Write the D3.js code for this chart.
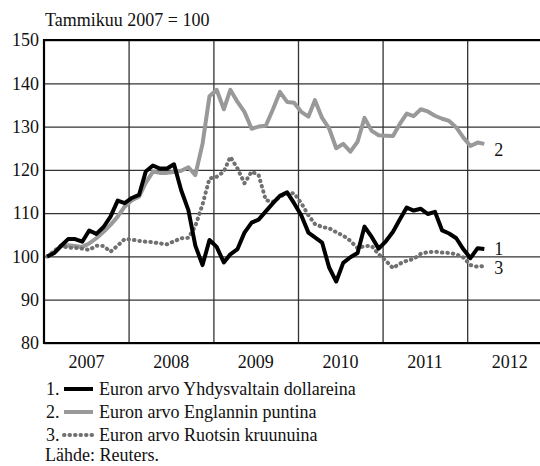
<!DOCTYPE html>
<html>
<head>
<meta charset="utf-8">
<script src="https://cdn.jsdelivr.net/npm/d3@7"></script>
<style>
    body { margin: 0; background: #fff; }
    svg text { font-family: "Liberation Serif", "Times New Roman", serif; font-size: 18px; fill: #111; }
</style>
</head>
<body>
<div id="chart"></div>
<script>
// monthly index values, Jan 2007 = 100 (Jan 2007 ... Mar 2012)
var startYear = 2007;
var usd = [
    100, 100.8, 102.4, 104, 104, 103.4, 106, 105.2, 106.8, 109.2, 112.9, 112.3,
    113.5, 114.2, 119.6, 121, 120.3, 120.3, 121.3, 115.3, 110.7, 102.5, 98, 103.8,
    102.2, 98.6, 100.5, 101.7, 105.5, 107.8, 108.5, 110.4, 112.3, 114, 114.8, 112.3,
    109.5, 105.5, 104.4, 103.2, 97.5, 94.2, 98.5, 99.8, 100.8, 106.9, 104.5, 101.8,
    103.5, 105.7, 108.4, 111.3, 110.6, 111, 109.8, 110.3, 106, 105.3, 104.2, 101.7,
    99.6, 101.9, 101.7
];
var gbp = [
    100, 101, 102.4, 102.6, 102.4, 102.2, 103, 104.2, 105.7, 107.3, 109.2, 111.5,
    113, 113.8, 117, 119.6, 119.3, 119.3, 119.5, 119.8, 120.6, 118.8, 126, 137,
    138.5, 134, 138.5, 135.7, 133.4, 129.5, 130, 130.2, 134, 138, 135.7, 135.5,
    133.4, 132.3, 136.1, 132, 129.6, 125, 126, 124.2, 126.5, 132, 129, 128,
    127.9, 127.8, 130.5, 133, 132.4, 134, 133.5, 132.5, 131.8, 131.3, 129.8, 127.5,
    125.5, 126.3, 126
];
var sek = [
    100, 101.3, 102.5, 102, 102, 101.8, 101.5, 102.5, 102.4, 101.1, 102.5, 104,
    103.9, 103.6, 103.4, 103.3, 103, 102.8, 103.5, 104.2, 104.3, 107, 112, 118,
    118.4, 119.6, 123, 120.3, 116.9, 119.6, 118.8, 113, 112.6, 113.8, 114.6, 114.6,
    112.3, 109.5, 107.5, 106.8, 106.5, 105.6, 104.8, 103.6, 101.9, 102.4, 102.4, 100.5,
    99, 97.3, 98.3, 99, 99.4, 100.6, 101, 101.1, 100.9, 100.8, 100.5, 99.8,
    98, 97.6, 97.8
];
var years = [2007, 2008, 2009, 2010, 2011, 2012];
var yTicks = [80, 90, 100, 110, 120, 130, 140, 150];
var subtitle = "Tammikuu 2007 = 100";
var legendLabels = [
    "Euron arvo Yhdysvaltain dollareina",
    "Euron arvo Englannin puntina",
    "Euron arvo Ruotsin kruunuina"
];
var endLabels = ["1", "2", "3"];
var source = "Lähde: Reuters.";

var width = 540, height = 466;
var plotLeft = 44, plotTop = 40, plotBottom = 343, plotRight = 552;

var svg = d3.select("#chart").append("svg")
    .attr("width", width)
    .attr("height", height);

var x = d3.scaleTime()
    .domain([new Date(startYear, 0, 1), new Date(startYear + years.length, 0, 1)])
    .range([plotLeft, plotRight]);
var y = d3.scaleLinear().domain([80, 150]).range([plotBottom, plotTop]);

function toPoints(values) {
    return values.map(function (v, i) {
        return { date: new Date(startYear, i, 15), value: v };
    });
}

// horizontal grid
svg.append("g")
    .attr("transform", "translate(" + plotLeft + ",0)")
    .call(d3.axisLeft(y).tickValues(yTicks).tickSize(-(plotRight - plotLeft)).tickFormat(""))
    .call(function (g) { g.select(".domain").remove(); })
    .selectAll("line")
    .attr("stroke", "#333")
    .attr("stroke-width", 1.3);

// vertical grid at year boundaries
svg.append("g")
    .attr("transform", "translate(0," + plotBottom + ")")
    .call(d3.axisBottom(x)
        .tickValues(years.slice(1).map(function (d) { return new Date(d, 0, 1); }))
        .tickSize(-(plotBottom - plotTop)).tickFormat(""))
    .call(function (g) { g.select(".domain").remove(); })
    .selectAll("line")
    .attr("stroke", "#333")
    .attr("stroke-width", 1.3);

// y labels
svg.append("g")
    .attr("transform", "translate(" + plotLeft + ",0)")
    .call(d3.axisLeft(y).tickValues(yTicks).tickSize(0).tickPadding(5))
    .call(function (g) { g.select(".domain").remove(); })
    .selectAll("text")
    .style("font-size", "18px")
    .style("font-family", "Liberation Serif");

// year labels in the middle of each year
svg.append("g")
    .attr("transform", "translate(0," + plotBottom + ")")
    .call(d3.axisBottom(x)
        .tickValues(years.map(function (d) { return new Date(d, 6, 1); }))
        .tickSize(0).tickPadding(12)
        .tickFormat(d3.timeFormat("%Y")))
    .call(function (g) { g.select(".domain").remove(); })
    .selectAll("text")
    .style("font-size", "18px")
    .style("font-family", "Liberation Serif");

// frame: top, left, bottom
svg.append("path")
    .attr("d", "M" + width + "," + plotTop + "H" + plotLeft + "V" + plotBottom + "H" + width)
    .attr("fill", "none")
    .attr("stroke", "#000")
    .attr("stroke-width", 2.2);

var line = d3.line()
    .x(function (d) { return x(d.date); })
    .y(function (d) { return y(d.value); });

var series = [
    { values: gbp, color: "#999", dash: null },
    { values: sek, color: "#707070", dash: "0.5,5" },
    { values: usd, color: "#000", dash: null }
];

svg.selectAll("path.series")
    .data(series)
    .enter()
    .append("path")
    .attr("class", "series")
    .attr("d", function (d) { return line(toPoints(d.values)); })
    .attr("fill", "none")
    .attr("stroke", function (d) { return d.color; })
    .attr("stroke-width", 4)
    .attr("stroke-linecap", function (d) { return d.dash ? "round" : "butt"; })
    .attr("stroke-linejoin", "round")
    .attr("stroke-dasharray", function (d) { return d.dash; });

// numbers at the line ends
var ends = [usd, gbp, sek];
var endOffsets = [0, 6, 2];
svg.selectAll("text.end-label")
    .data(endLabels)
    .enter()
    .append("text")
    .attr("class", "end-label")
    .attr("x", function (d, i) { return x(new Date(startYear, ends[i].length - 1, 15)) + 10; })
    .attr("y", function (d, i) { return y(ends[i][ends[i].length - 1]) + 6 + endOffsets[i]; })
    .text(function (d) { return d; });

svg.append("text")
    .attr("x", 45)
    .attr("y", 26)
    .text(subtitle);

// legend
var legendStyles = [
    { color: "#000", dash: null },
    { color: "#999", dash: null },
    { color: "#707070", dash: "0.5,5" }
];
var legendY = [389, 412, 435];

var legend = svg.selectAll("g.legend")
    .data(legendLabels)
    .enter()
    .append("g")
    .attr("class", "legend")
    .attr("transform", function (d, i) { return "translate(0," + legendY[i] + ")"; });

legend.append("text")
    .attr("x", 46)
    .attr("y", 6)
    .text(function (d, i) { return (i + 1) + "."; });

legend.append("line")
    .attr("x1", 64)
    .attr("x2", 93)
    .attr("stroke", function (d, i) { return legendStyles[i].color; })
    .attr("stroke-width", 4)
    .attr("stroke-linecap", function (d, i) { return legendStyles[i].dash ? "round" : "butt"; })
    .attr("stroke-dasharray", function (d, i) { return legendStyles[i].dash; });

legend.append("text")
    .attr("x", 99)
    .attr("y", 6)
    .text(function (d) { return d; });

svg.append("text")
    .attr("x", 45)
    .attr("y", 461)
    .text(source);
</script>
</body>
</html>
